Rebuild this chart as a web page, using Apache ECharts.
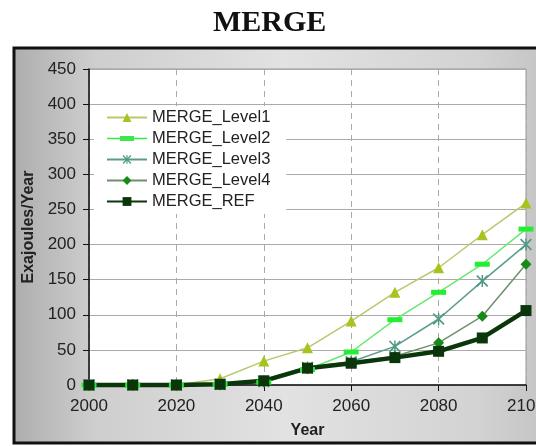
<!DOCTYPE html>
<html><head><meta charset="utf-8">
<script src="https://cdn.jsdelivr.net/npm/echarts@6/dist/echarts.min.js"></script>
<style>html,body{margin:0;padding:0;background:#fff}#c{width:536px;height:446px}</style>
</head><body><div id="c"></div>
<script>
const years = [2000, 2010, 2020, 2030, 2040, 2050, 2060, 2070, 2080, 2090, 2100];
const level1 = [0, 0, 0, 9, 34, 53, 91, 132, 167, 214, 259];
const level2 = [0, 0, 0, 1, 4, 22, 47, 93, 132, 172, 222];
const level3 = [0, 0, 0, 1, 5, 25, 33, 55, 94, 148, 200];
const level4 = [0, 0, 0, 1, 5, 23, 32, 41, 60, 98, 172];
const ref = [0, 0, 0, 1, 6, 24, 31, 39, 48, 67, 106];
const seriesNames = ['MERGE_Level1', 'MERGE_Level2', 'MERGE_Level3', 'MERGE_Level4', 'MERGE_REF'];

const pairs = arr => years.map((y, i) => [y, arr[i]]);
const starPath = 'path://M0,1L1,0L10,9L9,10Z M9,0L10,1L1,10L0,9Z M4.4,0H5.6V10H4.4Z';
const dashLegendPath = 'path://M0,4.8H40V6.2H0Z M13,3H27V8H13Z';

const chart = echarts.init(document.getElementById('c'), null, {renderer: 'canvas'});
const font = '"Liberation Sans", Arial, sans-serif';
chart.setOption({
  animation: false,
  graphic: [
    {type: 'rect', z: -10, silent: true,
     shape: {x: 14, y: 48, width: 540, height: 395},
     style: {
       fill: {type: 'linear', x: 0, y: 0, x2: 1, y2: 0, colorStops: [
         {offset: 0, color: '#adadad'}, {offset: 0.15, color: '#cecece'},
         {offset: 0.5, color: '#e2e2e2'}, {offset: 0.85, color: '#d3d3d3'}, {offset: 1, color: '#c2c2c2'}]},
       stroke: '#111', lineWidth: 3}},
    {type: 'text', left: 213, top: 8,
     style: {text: 'MERGE', font: 'bold 30px "Liberation Serif", "Times New Roman", serif', fill: '#111'}}
  ],
  grid: {left: 89, right: 10, top: 69, bottom: 61, show: true, backgroundColor: '#fff', borderColor: '#999', borderWidth: 1, outerBoundsMode: 'none'},
  legend: {
    orient: 'vertical', left: 94, top: 106, backgroundColor: '#fff',
    padding: [3, 16, 4, 12], itemWidth: 40, itemHeight: 11, itemGap: 4,
    textStyle: {fontFamily: font, fontSize: 16.5, color: '#222', lineHeight: 17},
    data: [
      {name: seriesNames[0]},
      {name: seriesNames[1], icon: dashLegendPath, itemStyle: {color: '#3be84a'}},
      {name: seriesNames[2]},
      {name: seriesNames[3]},
      {name: seriesNames[4]}
    ]
  },
  xAxis: {
    type: 'value', min: 2000, max: 2100, interval: 20,
    name: 'Year', nameLocation: 'middle', nameGap: 38,
    nameTextStyle: {fontFamily: font, fontSize: 16, fontWeight: 'bold', color: '#222'},
    axisLine: {show: true, onZero: false, lineStyle: {color: '#111', width: 1.5}},
    axisTick: {show: true, length: 6, lineStyle: {color: '#111'}},
    axisLabel: {fontFamily: font, fontSize: 17, color: '#222', margin: 13, formatter: v => String(v),
                alignMinLabel: 'center', alignMaxLabel: 'center'},
    splitLine: {show: true, lineStyle: {color: '#aaa', type: [6, 5], width: 1}}
  },
  yAxis: {
    type: 'value', min: 0, max: 450, interval: 50,
    name: 'Exajoules/Year', nameLocation: 'middle', nameGap: 51,
    nameTextStyle: {fontFamily: font, fontSize: 16, fontWeight: 'bold', color: '#222'},
    axisLine: {show: true, lineStyle: {color: '#111', width: 1.5}},
    axisTick: {show: true, length: 6, lineStyle: {color: '#111'}},
    axisLabel: {fontFamily: font, fontSize: 17, color: '#222', margin: 13},
    splitLine: {show: true, lineStyle: {color: '#aaa', width: 1}}
  },
  series: [
    {name: seriesNames[0], type: 'line', data: pairs(level1), clip: false,
     symbol: 'triangle', symbolSize: 11,
     itemStyle: {color: '#a6c41e'}, lineStyle: {color: '#b7c96c', width: 1.5}},
    {name: seriesNames[1], type: 'line', data: pairs(level2), clip: false,
     symbol: 'rect', symbolSize: [15, 5],
     itemStyle: {color: '#22ee33'}, lineStyle: {color: '#66e870', width: 1.5}},
    {name: seriesNames[2], type: 'line', data: pairs(level3), clip: false,
     symbol: starPath, symbolSize: 12,
     itemStyle: {color: '#4f9a86'}, lineStyle: {color: '#5a9c8a', width: 1.5}},
    {name: seriesNames[3], type: 'line', data: pairs(level4), clip: false,
     symbol: 'diamond', symbolSize: 11,
     itemStyle: {color: '#178a17'}, lineStyle: {color: '#6f8f6f', width: 1.5}},
    {name: seriesNames[4], type: 'line', data: pairs(ref), clip: false,
     symbol: 'rect', symbolSize: 11,
     itemStyle: {color: '#0b360b'}, lineStyle: {color: '#0b360b', width: 4.5}}
  ]
});
</script></body></html>
